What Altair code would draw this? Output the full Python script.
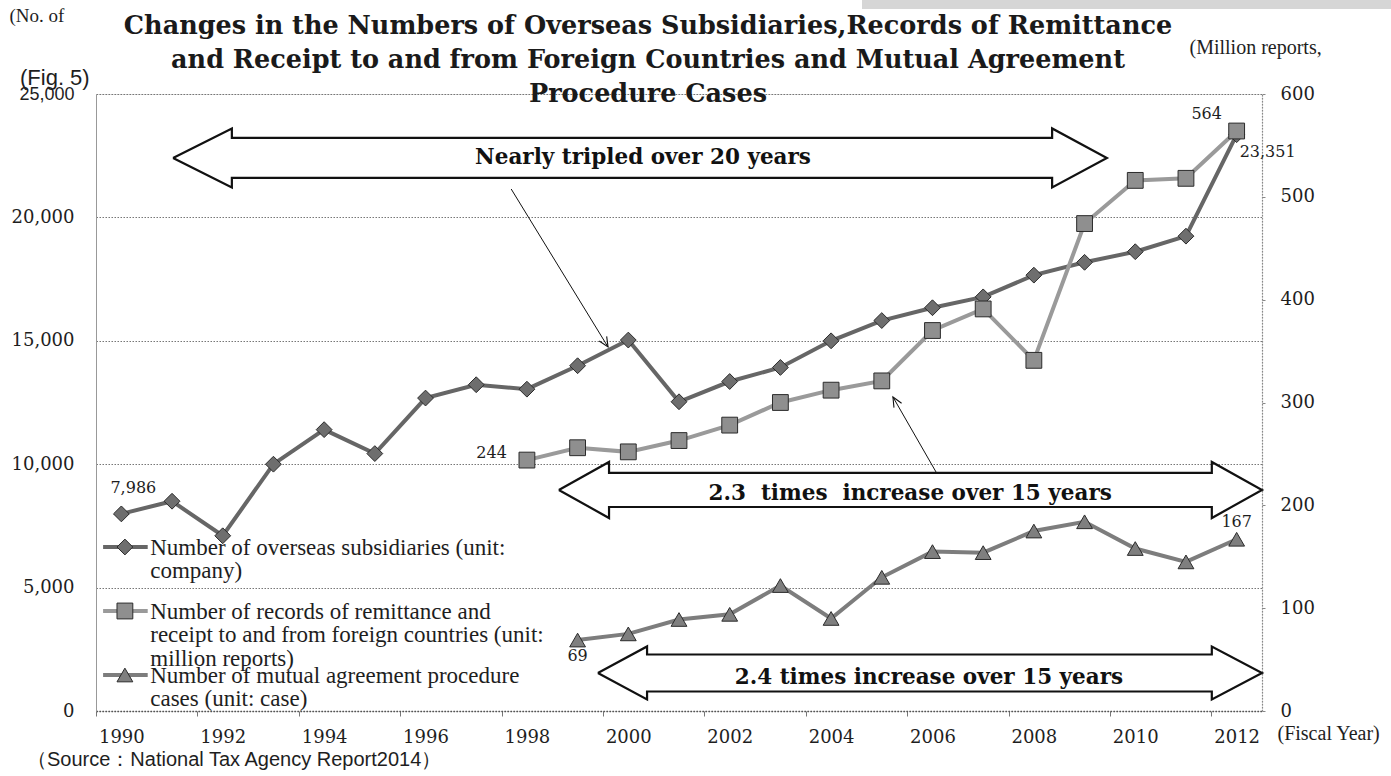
import altair as alt
import pandas as pd

# ---------------------------------------------------------------- data
years_subsidiaries = list(range(1990, 2013))
subsidiaries = [7986, 8500, 7100, 10000, 11400, 10430, 12680, 13220, 13040,
                13990, 15030, 12530, 13350, 13920, 15000, 15820, 16340,
                16780, 17660, 18180, 18610, 19240, 23351]

years_remittance = list(range(1998, 2013))
remittance = [244, 256, 252, 263, 278, 300, 312, 321, 370, 391, 341, 474,
              516, 518, 564]

years_mutual = list(range(1999, 2013))
mutual_cases = [69, 75, 89, 94, 122, 90, 130, 155, 154, 175, 184, 158,
                145, 167]

series_names = ["subsidiaries", "remittance", "mutual"]
legend_labels = [
    "Number of overseas subsidiaries (unit:\ncompany)",
    "Number of records of remittance and\nreceipt to and from foreign countries (unit:\nmillion reports)",
    "Number of mutual agreement procedure\ncases (unit: case)",
]

year_labels = list(range(1990, 2013, 2))
left_ticks = [0, 5000, 10000, 15000, 20000, 25000]
right_ticks = [0, 100, 200, 300, 400, 500, 600]

title_text = ("Changes in the Numbers of Overseas Subsidiaries,Records of Remittance\n"
              "and Receipt to and from Foreign Countries and Mutual Agreement\n"
              "Procedure Cases")

# ---------------------------------------------------------------- styles
line_colors = ["#666666", "#9a9a9a", "#7d7d7d"]
marker_fills = ["#6e6e6e", "#8f8f8f", "#7f7f7f"]
marker_shapes = ["diamond", "square", "triangle-up"]
SERIF = "DejaVu Serif"
TEXT_SERIF = "Liberation Serif"
SANS = "Liberation Sans"
INK = "#1e1e1e"

W, H = 1166, 617

df_sub = pd.DataFrame({"year": years_subsidiaries, "value": subsidiaries})
df_rem = pd.DataFrame({"year": years_remittance, "value": remittance})
df_mut = pd.DataFrame({"year": years_mutual, "value": mutual_cases})

# ---------------------------------------------------------------- scales / axes
x_scale = alt.Scale(domain=[1989.5, 2012.5], nice=False, zero=False)
x_tick_values = sorted(set(year_labels + [y - 0.5 for y in year_labels] + [2011.5]))
x_axis = alt.Axis(
    values=x_tick_values,
    labelExpr="datum.value % 1 === 0 ? datum.value + '' : ''",
    tickOpacity={"condition": {"test": "datum.value % 1 === 0", "value": 0}, "value": 1},
    tickSize=5, tickColor="#777", tickWidth=1,
    labelFont=SERIF, labelFontSize=18, labelColor=INK, labelPadding=12,
    labelOverlap=False, labelFlush=False,
    domainColor="#555", domainDash=[1.5, 1.5], domainWidth=1.3,
    grid=False,
    title="(Fiscal Year)", titleX=1181, titleY=22, titleAlign="left",
    titleBaseline="middle", titleAngle=0, titleFont=TEXT_SERIF, titleFontSize=20,
    titleFontWeight="normal", titleColor=INK,
)
left_scale = alt.Scale(domain=[0, 25000], nice=False, zero=True)
left_axis = alt.Axis(
    values=left_ticks,
    labelExpr="format(datum.value, ',')",
    labelFont={"condition": {"test": "datum.value === 25000", "value": SANS}, "value": SERIF},
    labelFontSize=18, labelColor=INK, labelPadding=22, tickSize=0,
    grid=True, gridColor="#777", gridDash=[1.5, 1.5], gridWidth=1,
    domainColor="#999", domainWidth=1,
    title="(No. of", titleAngle=0, titleX=-87, titleY=-79, titleAlign="left",
    titleBaseline="middle", titleFont=TEXT_SERIF, titleFontSize=19,
    titleFontWeight="normal", titleColor=INK,
)
right_scale = alt.Scale(domain=[0, 600], nice=False, zero=True)
right_axis = alt.Axis(
    orient="right", values=right_ticks,
    labelFont=SERIF, labelFontSize=18, labelColor=INK, labelPadding=15,
    tickSize=3, tickColor="#888", grid=False,
    domainColor="#888", domainDash=[1.5, 1.5], domainWidth=1.2,
    title="(Million reports,", titleAngle=0, titleX=-73, titleY=-47,
    titleAlign="left", titleBaseline="middle", titleFont=TEXT_SERIF,
    titleFontSize=20, titleFontWeight="normal", titleColor=INK,
)


def X(field):
    return alt.X(f"{field}:Q", scale=x_scale, axis=x_axis)


def YL(field):
    return alt.Y(f"{field}:Q", scale=left_scale, axis=left_axis)


def YR(field):
    return alt.Y(f"{field}:Q", scale=right_scale, axis=right_axis)


def series_layers(df, yfn, i):
    base = alt.Chart(df).encode(x=X("year"), y=yfn("value"))
    line = base.mark_line(color=line_colors[i], strokeWidth=4)
    pts = base.mark_point(shape=marker_shapes[i], filled=True, fill=marker_fills[i],
                          stroke="#2b2b2b", strokeWidth=1, size=250, opacity=1)
    return [line, pts]


def value_label(df, yfn, year, fmt, **kw):
    return (alt.Chart(df).transform_filter(alt.datum.year == year)
            .mark_text(font=SERIF, fontSize=16, color=INK, **kw)
            .encode(x=X("year"), y=yfn("value"), text=alt.Text("value:Q", format=fmt)))


# ---------------------------------------------------------------- block arrows
# (left tip, left head base, right head base, right tip, centre, shaft half, head half)
block_arrows = {
    "a20": (1991.02, 1992.18, 2008.36, 2009.44, 22410, 810, 1195),
    "a15r": (1998.63, 1999.62, 2011.51, 2012.5, 8955, 690, 1135),
    "a15m": (1999.40, 2000.37, 2011.51, 2012.5, 1540, 750, 1075),
}
rows = []
for name, (xl, bl, br, xr, c, s, h) in block_arrows.items():
    pts = [(xl, c), (bl, c + h), (bl, c + s), (br, c + s), (br, c + h), (xr, c),
           (br, c - h), (br, c - s), (bl, c - s), (bl, c - h), (xl, c)]
    for k, (px, py) in enumerate(pts):
        rows.append({"arrow": name, "k": k, "x": px, "y": py})
df_arrows = pd.DataFrame(rows)
arrows = alt.Chart(df_arrows).mark_line(color="#111", strokeWidth=2.2,
                                        strokeJoin="miter").encode(
    x=X("x"), y=YL("y"), detail="arrow:N", order="k:Q")

arrow_texts = pd.DataFrame({
    "x": [2000.29, 2005.56, 2005.93],
    "y": [22410, 8800, 1340],
    "t": ["Nearly tripled over 20 years",
          "2.3\u00a0 times\u00a0 increase over 15 years",
          "2.4 times increase over 15 years"],
})
arrow_text = alt.Chart(arrow_texts).mark_text(
    font=SERIF, fontSize=21.5, fontWeight="bold", color="#111", baseline="middle"
).encode(x=X("x"), y=YL("y"), text="t:N")

# ---------------------------------------------------------------- callouts
callouts = pd.DataFrame({
    "x": [1997.69, 2006.07], "y": [21150, 9685],
    "x2": [1999.60, 2005.22], "y2": [14750, 12725],
    "angle": [328.5, 150.2],
})
callout_lines = alt.Chart(callouts).mark_rule(color="#111", strokeWidth=1).encode(
    x=X("x"), y=YL("y"), x2="x2:Q", y2="y2:Q")
callout_heads = alt.Chart(callouts).mark_point(
    shape="M-0.45,-1L0,0L0.45,-1", filled=False, stroke="#111", strokeWidth=1.1,
    size=380, opacity=1
).encode(x=X("x2"), y=YL("y2"), angle=alt.Angle("angle:Q", scale=None))

# ---------------------------------------------------------------- legend
legend_df = pd.DataFrame({
    "series": series_names,
    "label": legend_labels,
    "y": [6645, 4052, 1459],
    "x0": 1989.64, "x1": 1990.52, "xm": 1990.07, "xt": 1990.57,
})
legend_lines = alt.Chart(legend_df).mark_rule(strokeWidth=4).encode(
    x=X("x0"), x2="x1:Q", y=YL("y"),
    stroke=alt.Stroke("series:N", scale=alt.Scale(domain=series_names, range=line_colors),
                      legend=None))
legend_marks = alt.Chart(legend_df).mark_point(
    filled=True, stroke="#2b2b2b", strokeWidth=1, size=250, opacity=1
).encode(
    x=X("xm"), y=YL("y"),
    shape=alt.Shape("series:N", scale=alt.Scale(domain=series_names, range=marker_shapes),
                    legend=None),
    fill=alt.Fill("series:N", scale=alt.Scale(domain=series_names, range=marker_fills),
                  legend=None))
legend_text = alt.Chart(legend_df).mark_text(
    font=TEXT_SERIF, fontSize=23, color=INK, align="left", baseline="alphabetic",
    lineBreak="\n", lineHeight=23.3, dy=8
).encode(x=X("xt"), y=YL("y"), text="label:N")

# ---------------------------------------------------------------- loose texts
title_mark = alt.Chart(pd.DataFrame({"t": [title_text]})).mark_text(
    font=SERIF, fontSize=25.5, fontWeight="bold", color="#1a1a1a", align="center",
    baseline="middle", lineBreak="\n", lineHeight=34
).encode(x=alt.value(552), y=alt.value(-68), text="t:N")
fig_label = alt.Chart(pd.DataFrame({"t": ["(Fig. 5)"]})).mark_text(
    font=SANS, fontSize=22, color=INK, align="left", baseline="middle"
).encode(x=alt.value(-76), y=alt.value(-16), text="t:N")
source_label = alt.Chart(pd.DataFrame({"t": ["\uff08Source\uff1aNational Tax Agency Report2014\uff09"]})).mark_text(
    font=SANS, fontSize=20, color=INK, align="left", baseline="middle"
).encode(x=alt.value(-69), y=alt.value(666), text="t:N")
top_band = alt.Chart(pd.DataFrame({"a": [0]})).mark_rect(color="#d6d6d6").encode(
    x=alt.value(766), x2=alt.value(1295), y=alt.value(-94), y2=alt.value(-85))

# ---------------------------------------------------------------- assemble
left_group = alt.layer(
    top_band, title_mark, arrows, arrow_text, callout_lines, callout_heads,
    legend_lines, legend_marks, legend_text, fig_label, source_label,
    *series_layers(df_sub, YL, 0),
    value_label(df_sub, YL, 1990, ",", dy=-26, dx=12),
    value_label(df_sub, YL, 2012, ",", dy=17, dx=3, align="left"),
)
right_group = alt.layer(
    *series_layers(df_rem, YR, 1),
    *series_layers(df_mut, YR, 2),
    value_label(df_rem, YR, 1998, "d", dx=-20, dy=-7, align="right"),
    value_label(df_rem, YR, 2012, "d", dx=-30, dy=-17),
    value_label(df_mut, YR, 1999, "d", dy=16),
    value_label(df_mut, YR, 2012, "d", dy=-17),
)

chart = (
    alt.layer(left_group, right_group)
    .resolve_scale(y="independent")
    .properties(
        width=W, height=H,
        padding={"left": 96, "top": 94, "right": 129, "bottom": 65},
        autosize=alt.AutoSizeParams(type="none"),
    )
    .configure_view(stroke=None)
    .configure(background="white")
)

chart.save("out.html", embed_options={"renderer": "svg", "actions": False})
